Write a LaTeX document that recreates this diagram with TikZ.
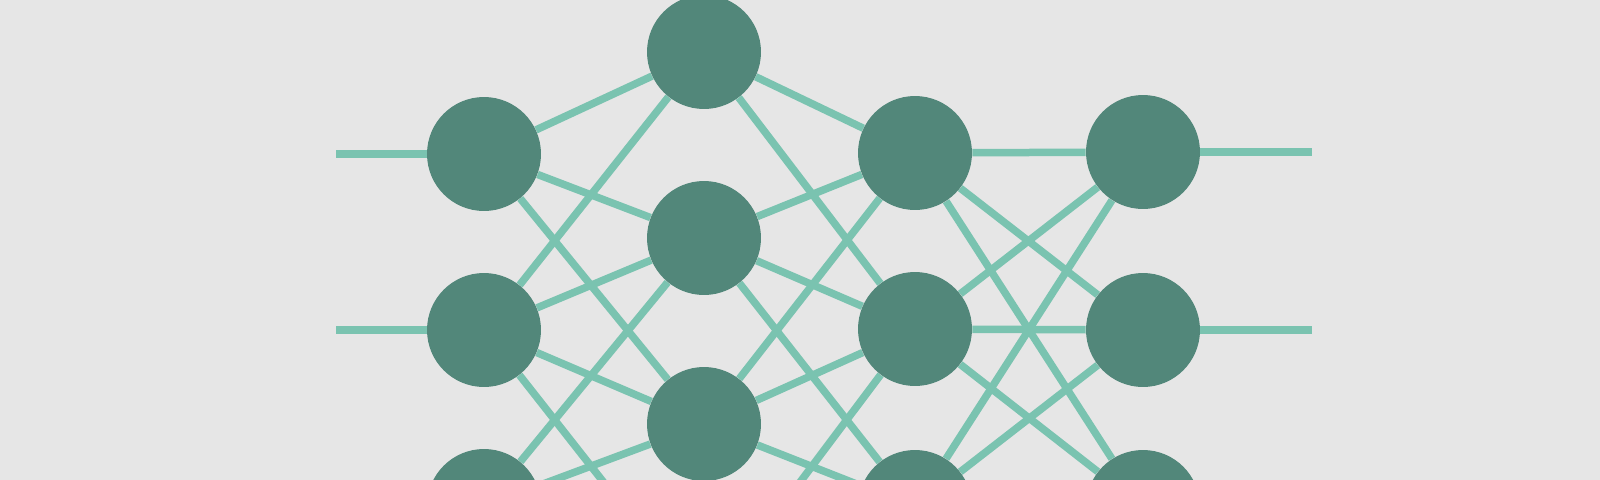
\documentclass[tikz,border=0pt]{standalone}
\definecolor{bgGray}{RGB}{230,230,230}
\definecolor{unitGreen}{RGB}{82,135,122}
\definecolor{wireGreen}{RGB}{122,195,176}
\pgfdeclarelayer{wires}
\pgfsetlayers{wires,main}
\tikzset{
  unit/.style={circle, fill=unitGreen, minimum size=2.28cm, inner sep=0pt},
  wire/.style={draw=wireGreen, line width=0.15cm},
}
\begin{document}
\begin{tikzpicture}[x=0.02cm, y=-0.02cm]
                    \useasboundingbox (0,0) rectangle (1600,480);
                    % layers of units
                    \foreach \y [count=\i] in {154,330,506} \node [unit] (a\i) at (484,\y) {};
                    \foreach \y [count=\i] in {52,238,424,610} \node [unit] (b\i) at (704,\y) {};
                    \foreach \y [count=\i] in {153,329,507} \node [unit] (c\i) at (915,\y) {};
                    \foreach \y [count=\i] in {152,330,507} \node [unit] (d\i) at (1143,\y) {};
                    \foreach \y [count=\i] in {154,330,506} \coordinate (in\i) at (336,\y);
                    \foreach \y [count=\i] in {152,330,507} \coordinate (out\i) at (1312,\y);
                    \begin{pgfonlayer}{wires}
                    \fill [bgGray] (0,0) rectangle (1600,480);
                    \foreach \i in {1,2,3} {
                        \draw [wire] (in\i) -- (a\i);
                        \draw [wire] (d\i) -- (out\i);
                        % only the near units of the wider layer are linked
                        \foreach \j in {1,...,4} {
                            \pgfmathtruncatemacro\gap{\j-\i}
                            \ifnum\gap>-2 \ifnum\gap<3
                                \draw [wire] (a\i) -- (b\j);
                                \draw [wire] (b\j) -- (c\i);
                            \fi\fi
                        }
                        \foreach \j in {1,2,3} \draw [wire] (c\i) -- (d\j);
                    }
                    \end{pgfonlayer}
                \end{tikzpicture}
\end{document}
